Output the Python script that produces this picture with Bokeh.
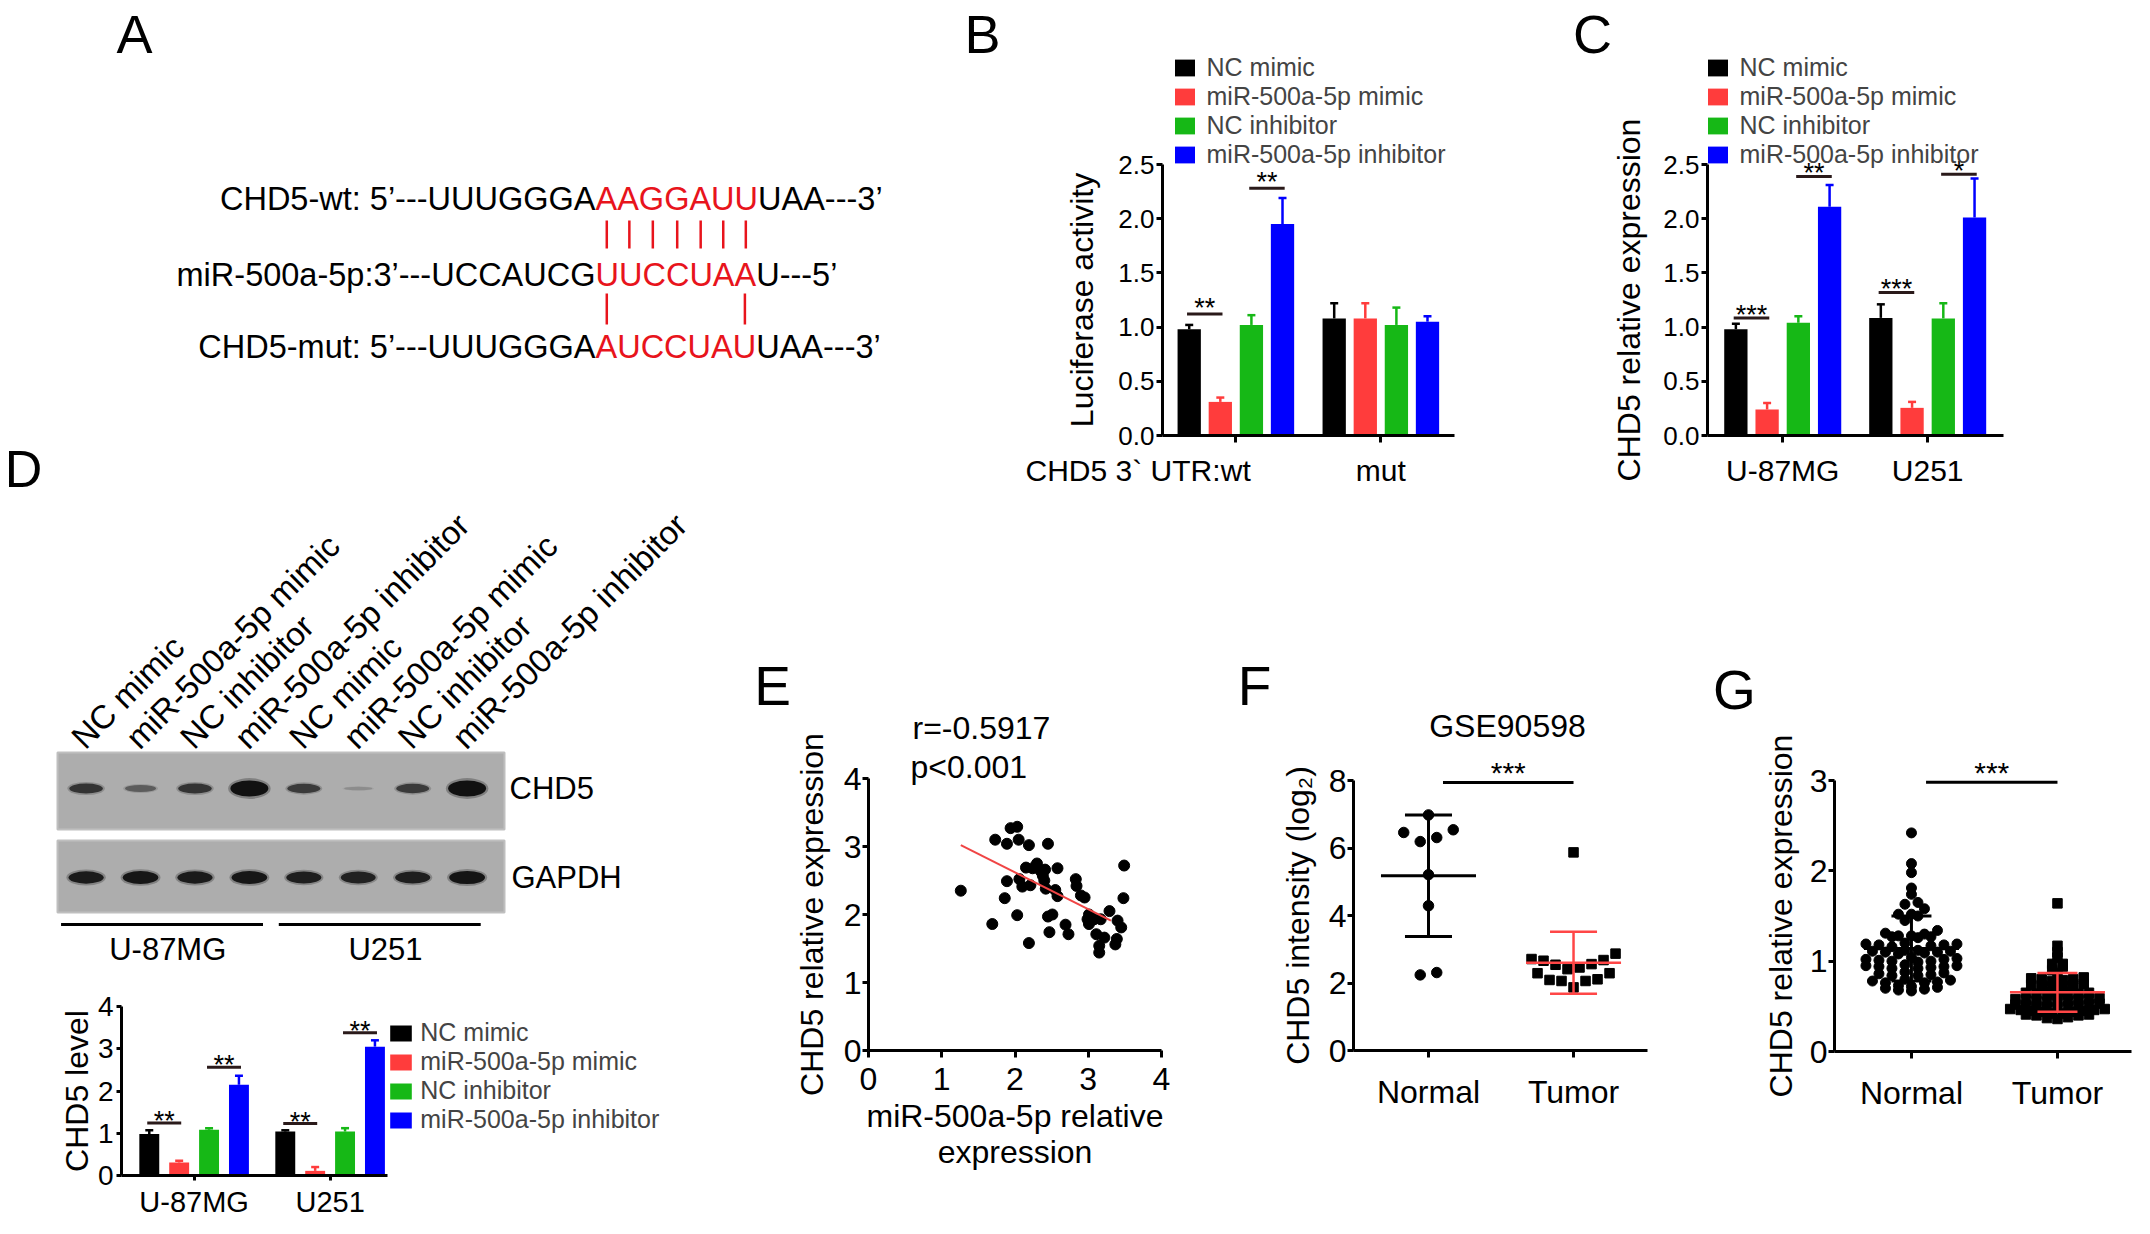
import math
from bokeh.plotting import figure
from bokeh.models import (Range1d, FixedTicker, Label, Legend, LegendItem,
                          NumeralTickFormatter)
from bokeh.layouts import row, column
from bokeh.embed import file_html
from bokeh.resources import INLINE
from bokeh.core.properties import value

FONT = "Liberation Sans"

# ======================= DATA =======================
SERIES = ["NC mimic", "miR-500a-5p mimic", "NC inhibitor", "miR-500a-5p inhibitor"]

# Panel A: sequences (black prefix, red seed, black suffix)
A_WT = ("CHD5-wt: 5\u2019---UUUGGGA", "AAGGAUU", "UAA---3\u2019")
A_MIR = ("miR-500a-5p:3\u2019---UCCAUCG", "UUCCUAA", "U---5\u2019")
A_MUT = ("CHD5-mut: 5\u2019---UUUGGGA", "AUCCUAU", "UAA---3\u2019")

# Panel B: luciferase activity (per series: [wt, mut])
B_GROUPS = ["wt", "mut"]
B_MEAN = [[0.98, 1.08], [0.31, 1.08], [1.02, 1.02], [1.95, 1.05]]
B_ERR = [[1.02, 1.22], [0.35, 1.22], [1.11, 1.18], [2.19, 1.10]]
B_SIG = [(0, 0, 1, 1.12, "**"), (0, 2, 3, 2.28, "**")]

# Panel C: CHD5 relative expression (per series: [U-87MG, U251])
C_GROUPS = ["U-87MG", "U251"]
C_MEAN = [[0.98, 1.085], [0.24, 0.255], [1.04, 1.08], [2.11, 2.01]]
C_ERR = [[1.03, 1.21], [0.30, 0.31], [1.10, 1.22], [2.31, 2.37]]
C_SIG = [(0, 0, 1, 1.085, "***"), (0, 2, 3, 2.39, "**"),
         (1, 0, 1, 1.32, "***"), (1, 2, 3, 2.41, "*")]

# Panel D: western blot band intensities and quantification
D_LANES = SERIES * 2
D_CHD5_BAND = [0.55, 0.30, 0.55, 1.00, 0.50, 0.04, 0.50, 1.00]
D_GAPDH_BAND = [0.72, 0.76, 0.72, 0.76, 0.70, 0.68, 0.70, 0.78]
D_CELLS = ["U-87MG", "U251"]
D_MEAN = [[0.98, 1.04], [0.31, 0.11], [1.08, 1.04], [2.15, 3.05]]
D_ERR = [[1.07, 1.07], [0.35, 0.20], [1.12, 1.12], [2.36, 3.20]]
D_SIG = [(0, 0, 1, 1.24, "**"), (0, 2, 3, 2.56, "**"),
         (1, 0, 1, 1.23, "**"), (1, 2, 3, 3.38, "**")]

# Panel E: correlation
E_MIR = [1.26, 1.69, 1.73, 1.89, 1.94, 2.03, 2.05, 2.19, 2.45, 1.89,
         1.86, 2.03, 2.19, 2.06, 2.10, 2.21, 2.15, 2.30, 2.35, 2.41,
         2.58, 2.40, 2.42, 2.55, 2.58, 2.45, 2.51, 2.47, 2.69, 2.73,
         2.83, 2.84, 2.90, 2.95, 3.01, 3.01, 3.08, 3.17, 3.29, 3.11,
         3.22, 3.15, 3.15, 3.37, 3.39, 3.40, 3.45, 3.49, 3.48, 2.99,
         2.24, 2.38]
E_CHD5 = [2.35, 1.86, 3.10, 3.04, 3.27, 3.29, 3.10, 3.02, 3.04, 2.49,
          2.24, 1.99, 1.58, 2.52, 2.41, 2.43, 2.69, 2.75, 2.64, 2.66,
          2.68, 2.50, 2.38, 2.36, 2.27, 1.97, 2.00, 1.74, 1.85, 1.71,
          2.52, 2.42, 2.28, 2.25, 2.00, 1.86, 1.93, 1.93, 2.05, 1.71,
          1.66, 1.54, 1.44, 1.56, 1.64, 1.91, 1.81, 2.72, 2.24, 1.93,
          2.68, 2.57]
E_FIT_X = [1.26, 3.31]
E_FIT_Y = [3.02, 1.91]
E_STATS = ["r=-0.5917", "p<0.001"]

# Panel F: GSE90598
F_CATS = ["Normal", "Tumor"]
F_NORMAL = [6.98, 6.54, 6.46, 6.31, 6.19, 5.21, 4.29, 2.31, 2.24]
F_TUMOR = [5.87, 2.87, 2.71, 2.68, 2.66, 2.56, 2.54, 2.46, 2.41, 2.29,
           2.29, 2.11, 2.09, 2.06, 2.06, 1.87]
F_MEAN = [5.18, 2.60]
F_SD = [1.80, 0.915]
F_SIG = 7.94

# Panel G: clinical samples
G_CATS = ["Normal", "Tumor"]
G_NORMAL = [2.42, 2.08, 1.98, 1.81, 1.74, 1.65, 1.63, 1.58, 1.52, 1.52, 1.50, 1.45, 1.34, 1.31,
            1.30, 1.28, 1.28, 1.27, 1.27, 1.26,
            1.20, 1.19, 1.19, 1.18, 1.18, 1.17, 1.16,
            1.12, 1.12, 1.11, 1.11, 1.10, 1.10, 1.09, 1.08,
            1.04, 1.03, 1.02, 1.02, 1.01, 1.00, 1.00, 0.99,
            0.96, 0.95, 0.95, 0.94, 0.94, 0.93, 0.92, 0.92,
            0.88, 0.87, 0.86, 0.85, 0.84, 0.84,
            0.80, 0.79, 0.78, 0.77, 0.76, 0.76,
            0.73, 0.72, 0.71, 0.70, 0.69, 0.68, 0.67]
G_TUMOR = [1.64, 1.17, 1.10, 1.04, 0.97, 0.97, 0.94, 0.90, 0.87,
           0.82, 0.81, 0.80, 0.80, 0.79, 0.78,
           0.75, 0.74, 0.73, 0.73, 0.72, 0.72, 0.71, 0.70,
           0.66, 0.66, 0.65, 0.65, 0.64, 0.64, 0.63, 0.63, 0.62,
           0.59, 0.58, 0.58, 0.57, 0.57, 0.56, 0.56, 0.55, 0.55,
           0.53, 0.52, 0.52, 0.51, 0.51, 0.50, 0.50, 0.49, 0.49,
           0.47, 0.47, 0.46, 0.46, 0.45, 0.45, 0.44, 0.44,
           0.42, 0.42, 0.41, 0.41, 0.40, 0.40,
           0.38, 0.37, 0.36]
G_MEAN = [1.14, 0.655]
G_SD = [0.36, 0.215]
G_SIG = 2.98

# ======================= STYLE =======================
SERIES_COLORS = ["#000000", "#ff3c3c", "#16b816", "#0000ff"]
SEQ_RED = "#e8141c"
SIG_COLOR = "#2a1a1a"
ERR_RED = "#ff4646"
ADV = {"A": 0.667, "U": 0.722, "G": 0.778, "C": 0.722}
PAIRS = {("A", "U"), ("U", "A"), ("G", "C"), ("C", "G")}
LEGEND_SHIFT = 8.6   # empirical vertical offset of Bokeh legend box
LEGEND_ROW = 1.15    # legend row height in em


def chart(x0, y0, w, h, frame, xr, yr):
    """Figure whose plotting area fills the whole canvas; axes are pinned at
    the data origin (fixed_location) and bounded to the axis extent."""
    fl, ft, fr, fb = frame
    kx = (xr[1] - xr[0]) / (fr - fl)
    ky = (yr[1] - yr[0]) / (fb - ft)

    def X(px):
        return xr[0] + (px - fl) * kx

    def Y(py):
        return yr[0] + (fb - py) * ky

    p = figure(width=w, height=h, x_range=Range1d(X(x0), X(x0 + w)),
               y_range=Range1d(Y(y0 + h), Y(y0)), output_backend="svg",
               toolbar_location=None, min_border=0)
    p.outline_line_color = None
    p.grid.visible = False
    p.xaxis.fixed_location = yr[0]
    p.xaxis.bounds = xr
    p.yaxis.fixed_location = xr[0]
    p.yaxis.bounds = yr
    for ax in p.axis:
        ax.axis_line_width = 3
        ax.axis_line_color = "black"
        ax.major_tick_line_width = 3
        ax.major_tick_line_color = "black"
        ax.major_tick_in = 0
        ax.major_tick_out = 7
        ax.minor_tick_line_color = None
        ax.major_label_text_font = FONT
        ax.major_label_text_color = "black"
        ax.axis_label_text_font = FONT
        ax.axis_label_text_font_style = "normal"
        ax.axis_label_text_color = "black"
    return p, X, Y


def plain(w, h, xr, yr):
    p = figure(width=w, height=h, x_range=Range1d(*xr), y_range=Range1d(*yr),
               output_backend="svg", toolbar_location=None,
               x_axis_location=None, y_axis_location=None, min_border=0)
    p.outline_line_color = None
    p.grid.visible = False
    return p


def dlabel(p, x, y, text, size, align="center", baseline="middle", color="black",
           angle=0.0, y_offset=0):
    p.add_layout(Label(x=x, y=y, text=text, text_font=FONT, text_font_size=f"{size}px",
                       text_align=align, text_baseline=baseline, text_color=color,
                       angle=angle, y_offset=y_offset))


def draw_bars(p, means, errs, pitch, bw, cap):
    rends = []
    for i, (m, e, col) in enumerate(zip(means, errs, SERIES_COLORS)):
        xs = [g + (i - 1.5) * pitch for g in range(len(m))]
        r = p.vbar(x=xs, top=m, bottom=0, width=bw, fill_color=col, line_color=None)
        p.segment(x0=xs, y0=m, x1=xs, y1=e, line_color=col, line_width=2.5)
        p.segment(x0=[x - cap for x in xs], y0=e, x1=[x + cap for x in xs], y1=e,
                  line_color=col, line_width=2.5)
        rends.append(r)
    return rends


def draw_sig(p, sigs, pitch, size, offset):
    for g, a, b, hgt, txt in sigs:
        xa = g + (a - 1.5) * pitch
        xb = g + (b - 1.5) * pitch
        p.segment(x0=[xa - 0.015], y0=[hgt], x1=[xb + 0.015], y1=[hgt],
                  line_color=SIG_COLOR, line_width=3)
        dlabel(p, (xa + xb) / 2, hgt, txt, size, y_offset=offset)


def add_legend(p, rends, canvas_x0, canvas_bottom, swatch_left, mid_y, fs, gw, gh, standoff):
    rh = LEGEND_ROW * fs
    bottom = mid_y + 2 * rh
    items = [LegendItem(label=s, renderers=[r]) for s, r in zip(SERIES, rends)]
    lg = Legend(items=items,
                location=(swatch_left - 0.1 * gw - canvas_x0,
                          canvas_bottom - bottom - LEGEND_SHIFT),
                label_text_font=FONT, label_text_font_size=f"{fs}px",
                glyph_width=gw, glyph_height=gh, label_standoff=standoff,
                spacing=0, padding=0, margin=0, border_line_color=None,
                background_fill_alpha=0, label_height=10)
    p.add_layout(lg)


def swarm(vals, center, bin_h, base, step):
    bins = {}
    for i, v in enumerate(vals):
        bins.setdefault(math.floor(round((v - base) / bin_h, 6)), []).append(i)
    xs = [center] * len(vals)
    for idxs in bins.values():
        idxs.sort(key=lambda i: vals[i])
        n = len(idxs)
        slots = sorted(range(n), key=lambda k: (abs(k - (n - 1) / 2), k))
        for i, k in zip(idxs, slots):
            xs[i] = center + (k - (n - 1) / 2) * step
    return xs


def axis_fonts(p, ytick, xtick):
    p.yaxis.major_label_text_font_size = f"{ytick}px"
    p.xaxis.major_label_text_font_size = f"{xtick}px"


# ======================= PANEL A (+ letter D) =======================
pa = plain(947, 497, (8, 955), (505, 8))
SEQ_FS = 32.5
RED_X = 603
SEQ_Y = [206, 282, 354]


def centers(s):
    out, acc = [], 0.0
    for ch in s:
        out.append(RED_X + SEQ_FS * (acc + ADV[ch] / 2))
        acc += ADV[ch]
    return out


for (pre, mid, post), y in zip([A_WT, A_MIR, A_MUT], SEQ_Y):
    dlabel(pa, RED_X, y, pre, SEQ_FS, align="right")
    dlabel(pa, RED_X, y, mid, SEQ_FS, align="left", color=SEQ_RED)
    dlabel(pa, RED_X + SEQ_FS * sum(ADV[c] for c in mid), y, post, SEQ_FS, align="left")

cw, cm, cu = centers(A_WT[1]), centers(A_MIR[1]), centers(A_MUT[1])
top_x = [(a + b) / 2 for a, b, s, t in zip(cw, cm, A_WT[1], A_MIR[1]) if (s, t) in PAIRS]
bot_x = [(a + b) / 2 for a, b, s, t in zip(cm, cu, A_MIR[1], A_MUT[1]) if (s, t) in PAIRS]
pa.segment(x0=top_x, y0=[228] * len(top_x), x1=top_x, y1=[256] * len(top_x),
           line_color=SEQ_RED, line_width=2.5)
pa.segment(x0=bot_x, y0=[301] * len(bot_x), x1=bot_x, y1=[332] * len(bot_x),
           line_color=SEQ_RED, line_width=2.5)
dlabel(pa, 142, 41, "A", 54)
dlabel(pa, 31, 476, "D", 52)

# ======================= PANEL B =======================
BX0, BY0, BW, BH = 955, 8, 615, 497
pb, bX, bY = chart(BX0, BY0, BW, BH, (1170, 172, 1462, 443), (-0.506, 1.508), (0, 2.5))
B_PITCH = 31.1 / 145
rb = draw_bars(pb, B_MEAN, B_ERR, B_PITCH, 23.3 / 145, 4 / 145)
draw_sig(pb, B_SIG, B_PITCH, 27, 6)
pb.yaxis.ticker = FixedTicker(ticks=[0, 0.5, 1.0, 1.5, 2.0, 2.5])
pb.yaxis.formatter = NumeralTickFormatter(format="0.0")
pb.xaxis.ticker = FixedTicker(ticks=[0, 1])
pb.xaxis.major_label_overrides = {0: B_GROUPS[0], 1: B_GROUPS[1]}
axis_fonts(pb, 26, 30)
pb.yaxis.major_tick_out = 6
pb.yaxis.major_label_standoff = 2
pb.xaxis.major_label_standoff = 11
pb.yaxis.axis_label = "Luciferase activity"
pb.yaxis.axis_label_text_font_size = "32px"
pb.yaxis.axis_label_standoff = 15
dlabel(pb, bX(1228), bY(461), "CHD5 3` UTR:", 30, align="right", baseline="top")
add_legend(pb, rb, BX0, BY0 + BH, 1182, 111, 25, 25, 21, 10)
dlabel(pb, bX(990), bY(41), "B", 54)

# ======================= PANEL C =======================
CX0, CY0, CW, CH = 1570, 8, 572, 497
pc, cX, cY = chart(CX0, CY0, CW, CH, (1715, 172, 2011, 443), (-0.519, 1.523), (0, 2.5))
C_PITCH = 31.25 / 145
rc = draw_bars(pc, C_MEAN, C_ERR, C_PITCH, 23.3 / 145, 4 / 145)
draw_sig(pc, C_SIG, C_PITCH, 27, 3)
pc.yaxis.ticker = FixedTicker(ticks=[0, 0.5, 1.0, 1.5, 2.0, 2.5])
pc.yaxis.formatter = NumeralTickFormatter(format="0.0")
pc.xaxis.ticker = FixedTicker(ticks=[0, 1])
pc.xaxis.major_label_overrides = {0: C_GROUPS[0], 1: C_GROUPS[1]}
axis_fonts(pc, 26, 30)
pc.yaxis.major_tick_out = 6
pc.yaxis.major_label_standoff = 2
pc.xaxis.major_label_standoff = 11
pc.yaxis.axis_label = "CHD5 relative expression"
pc.yaxis.axis_label_text_font_size = "32px"
pc.yaxis.axis_label_standoff = 13
add_legend(pc, rc, CX0, CY0 + CH, 1715, 111, 25, 25, 21, 10)
dlabel(pc, cX(1600), cY(41), "C", 54)

# ======================= PANEL D (blot) =======================
LANE0, LANE_PX = 93.6, 54.43
pd1 = plain(732, 485, ((8 - LANE0) / LANE_PX, (740 - LANE0) / LANE_PX), (990, 505))
lanes = list(range(len(D_LANES)))
pd1.quad(left=[(65 - LANE0) / LANE_PX] * 2, right=[(512 - LANE0) / LANE_PX] * 2,
         top=[760, 848], bottom=[837, 920], fill_color="#adadad", line_color="#bfbfbf",
         line_width=2)
for yc, band in ((796, D_CHD5_BAND), (885, D_GAPDH_BAND)):
    w = [28 + 10 * b for b in band]
    h = [3 + 13 * b for b in band]
    a = [min(1.0, 0.12 + 1.1 * b) for b in band]
    pd1.ellipse(x=lanes, y=[yc] * len(lanes), width=[v * 1.12 for v in w],
                height=[v * 1.3 for v in h], width_units="screen", height_units="screen",
                fill_color="#1a1a1a", fill_alpha=[v * 0.3 for v in a], line_color=None)
    pd1.ellipse(x=lanes, y=[yc] * len(lanes), width=w, height=h,
                width_units="screen", height_units="screen",
                fill_color="#111111", fill_alpha=a, line_color=None)
pd1.text(x=[i - 9 / LANE_PX for i in lanes], y=[750] * len(lanes), text=D_LANES,
         angle=math.pi / 4, text_font=value(FONT), text_font_size="33px",
         text_align="left", text_baseline="alphabetic", text_color="black")
dlabel(pd1, (517 - LANE0) / LANE_PX, 796, "CHD5", 31, align="left")
dlabel(pd1, (519 - LANE0) / LANE_PX, 885, "GAPDH", 31, align="left")
groups_lanes = [lanes[:4], lanes[4:]]
pd1.segment(x0=[g[0] - 0.46 for g in groups_lanes], y0=[932, 932],
            x1=[g[-1] + 0.25 for g in groups_lanes], y1=[932, 932],
            line_color="black", line_width=3)
for g, name in zip(groups_lanes, D_CELLS):
    dlabel(pd1, sum(g) / len(g), 957, name, 31)

# ======================= PANEL D (quantification) =======================
DX0, DY0, DW, DH = 8, 990, 732, 236
pd2, dX, dY = chart(DX0, DY0, DW, DH, (129, 1014, 395, 1183), (-0.534, 1.422), (0, 4))
D_PITCH = 30 / 136.5
rd = draw_bars(pd2, D_MEAN, D_ERR, D_PITCH, 20 / 136.5, 4 / 136.5)
draw_sig(pd2, D_SIG, D_PITCH, 27, 2)
pd2.yaxis.ticker = FixedTicker(ticks=[0, 1, 2, 3, 4])
pd2.xaxis.ticker = FixedTicker(ticks=[0, 1])
pd2.xaxis.major_label_overrides = {0: D_CELLS[0], 1: D_CELLS[1]}
axis_fonts(pd2, 28, 29)
pd2.yaxis.major_tick_out = 5
pd2.xaxis.major_tick_out = 5
pd2.yaxis.major_label_standoff = 3
pd2.xaxis.major_label_standoff = 5
pd2.yaxis.axis_label = "CHD5 level"
pd2.yaxis.axis_label_text_font_size = "32px"
pd2.yaxis.axis_label_standoff = 0
add_legend(pd2, rd, DX0, DY0 + DH, 398, 1076, 25, 27, 20, 6)

# ======================= PANEL E =======================
EX0, EY0, EW, EH = 740, 505, 490, 721
pe, eX, eY = chart(EX0, EY0, EW, EH, (876, 786, 1169, 1058), (0, 4), (0, 4))
pe.scatter(E_MIR, E_CHD5, size=11, color="black")
pe.line(E_FIT_X, E_FIT_Y, line_color="#f04545", line_width=2)
pe.xaxis.ticker = FixedTicker(ticks=[0, 1, 2, 3, 4])
pe.yaxis.ticker = FixedTicker(ticks=[0, 1, 2, 3, 4])
axis_fonts(pe, 32, 32)
pe.yaxis.major_tick_out = 6
pe.yaxis.major_label_standoff = 1
pe.xaxis.major_label_standoff = 10
pe.yaxis.axis_label = "CHD5 relative expression"
pe.yaxis.axis_label_text_font_size = "32px"
pe.yaxis.axis_label_standoff = 11
pe.xaxis.axis_label = "miR-500a-5p relative\nexpression"
pe.xaxis.axis_label_text_font_size = "32px"
pe.xaxis.axis_label_text_line_height = 1.0
pe.xaxis.axis_label_standoff = 5
dlabel(pe, eX(920), eY(735), E_STATS[0], 32, align="left")
dlabel(pe, eX(918), eY(774), E_STATS[1], 32, align="left")
dlabel(pe, eX(780), eY(693), "E", 55)


# ======================= PANEL F / G helpers =======================
def dot_panel(p, normal, tumor, means, sds, bins, bases, steps, sig_y, sig_fs,
              mean_hw, cap_hw, csize, ssize):
    xn = swarm(normal, 0, bins[0], bases[0], steps[0])
    xt = swarm(tumor, 1, bins[1], bases[1], steps[1])
    p.scatter(xn, normal, marker="circle", size=csize, color="black")
    p.scatter(xt, tumor, marker="square", size=ssize, color="black")
    for gx, m, s, col, lw in ((0, means[0], sds[0], "black", 3),
                              (1, means[1], sds[1], ERR_RED, 2.5)):
        p.segment(x0=[gx - mean_hw, gx, gx - cap_hw, gx - cap_hw],
                  y0=[m, m - s, m + s, m - s],
                  x1=[gx + mean_hw, gx, gx + cap_hw, gx + cap_hw],
                  y1=[m, m + s, m + s, m - s], line_color=col, line_width=lw)
    p.segment(x0=[0.1], y0=[sig_y], x1=[1.0], y1=[sig_y], line_color="black", line_width=3)
    dlabel(p, 0.55, sig_y, "***", sig_fs, y_offset=10)


# ======================= PANEL F =======================
FX0, FY0, FW, FH = 1230, 505, 470, 721
pf, fX, fY = chart(FX0, FY0, FW, FH, (1361, 788, 1655, 1058), (-0.517, 1.51), (0, 8))
dot_panel(pf, F_NORMAL, F_TUMOR, F_MEAN, F_SD, (0.6, 0.6), (1.75, 1.75),
          (16.5 / 145, 12 / 145), F_SIG, 30, 47.5 / 145, 23.5 / 145, 10.5, 9.5)
pf.yaxis.ticker = FixedTicker(ticks=[0, 2, 4, 6, 8])
pf.xaxis.ticker = FixedTicker(ticks=[0, 1])
pf.xaxis.major_label_overrides = {0: F_CATS[0], 1: F_CATS[1]}
axis_fonts(pf, 32, 32)
pf.yaxis.major_tick_out = 6
pf.yaxis.major_label_standoff = 1
pf.xaxis.major_label_standoff = 16
pf.yaxis.axis_label = "CHD5 intensity (log\u2082)"
pf.yaxis.axis_label_text_font_size = "32px"
pf.yaxis.axis_label_standoff = 10
dlabel(pf, fX(1515), fY(733), "GSE90598", 32)
dlabel(pf, fX(1262), fY(693), "F", 55)

# ======================= PANEL G =======================
GX0, GY0, GW, GH = 1700, 505, 442, 721
pg, gX, gY = chart(GX0, GY0, GW, GH, (1842, 788, 2139, 1059), (-0.527, 1.507), (0, 3))
dot_panel(pg, G_NORMAL, G_TUMOR, G_MEAN, G_SD, (0.08, 0.06), (0.0, 0.0),
          (13 / 146, 10.5 / 146), G_SIG, 30, 47.5 / 146, 20 / 146, 10, 9.5)
pg.yaxis.ticker = FixedTicker(ticks=[0, 1, 2, 3])
pg.xaxis.ticker = FixedTicker(ticks=[0, 1])
pg.xaxis.major_label_overrides = {0: G_CATS[0], 1: G_CATS[1]}
axis_fonts(pg, 32, 32)
pg.yaxis.major_tick_out = 6
pg.yaxis.major_label_standoff = 1
pg.xaxis.major_label_standoff = 16
pg.yaxis.axis_label = "CHD5 relative expression"
pg.yaxis.axis_label_text_font_size = "32px"
pg.yaxis.axis_label_standoff = 8
dlabel(pg, gX(1742), gY(697), "G", 55)

# ======================= LAYOUT =======================
layout = column(row(pa, pb, pc), row(column(pd1, pd2), pe, pf, pg))
open("out.html", "w").write(file_html(layout, INLINE))
